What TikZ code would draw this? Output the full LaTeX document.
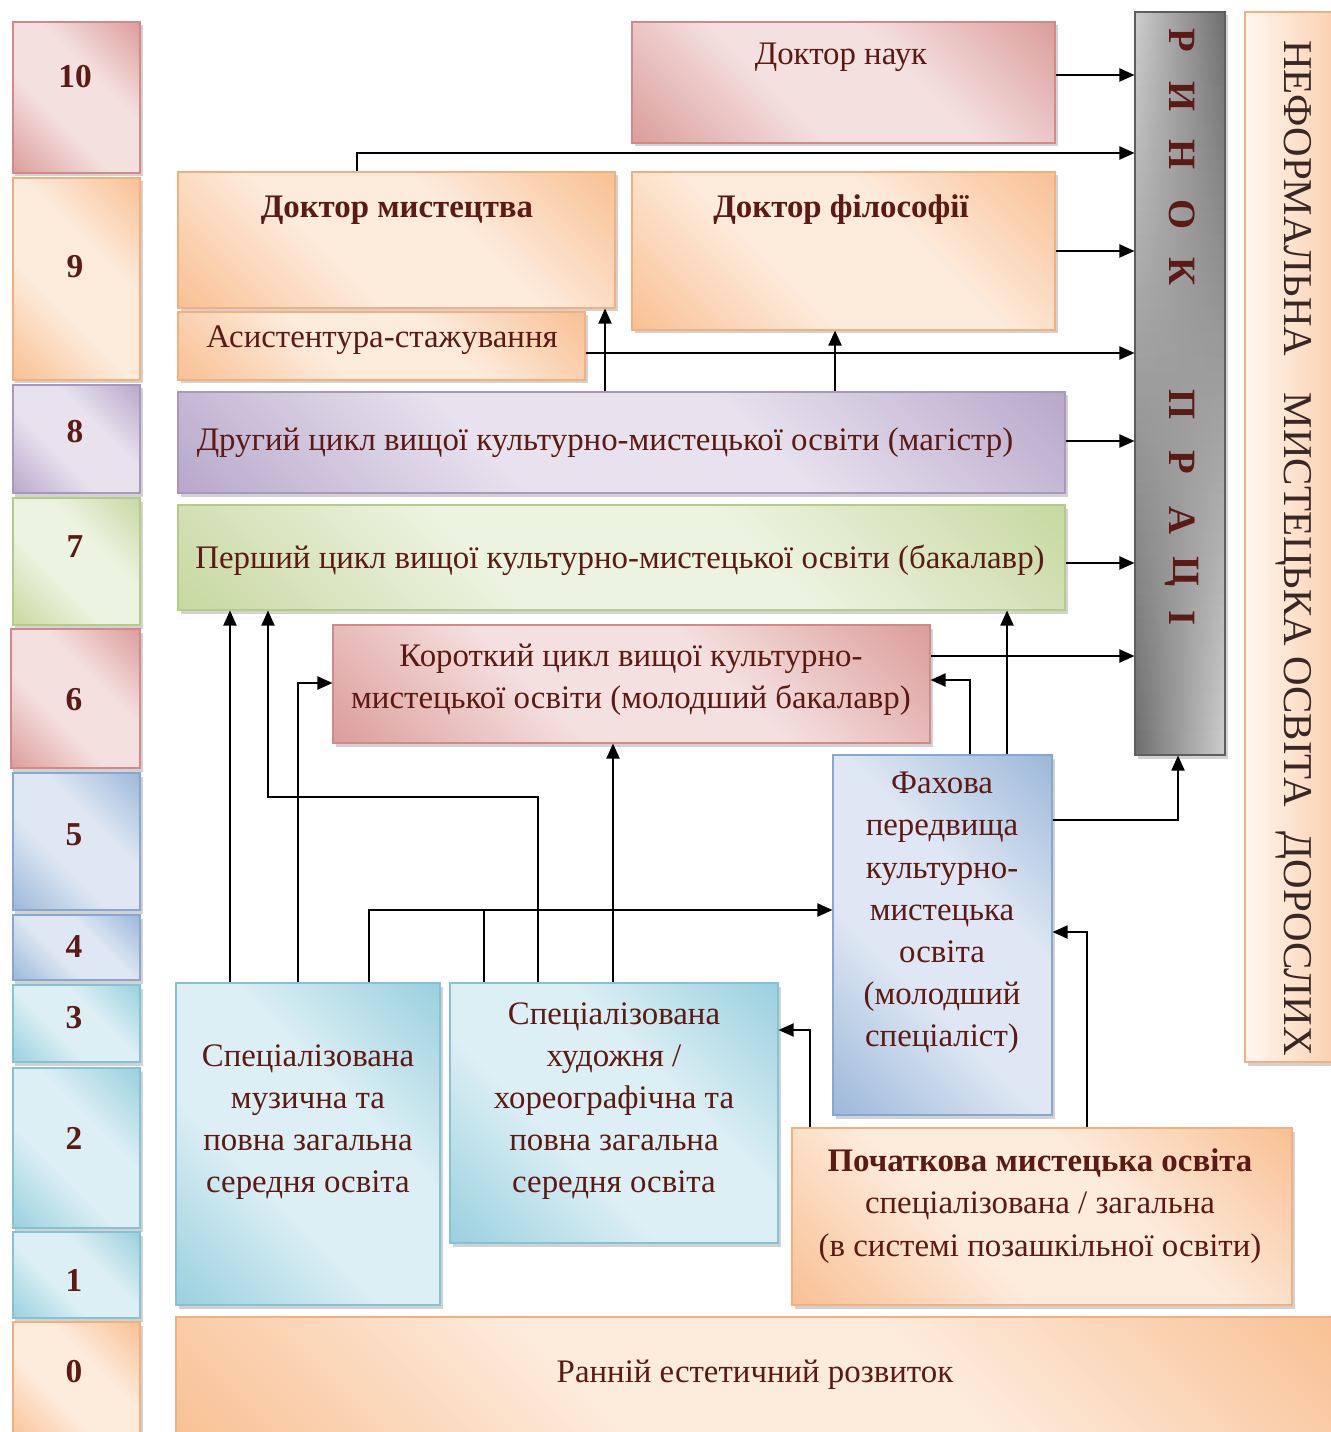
\documentclass[tikz,border=0pt]{standalone}
\usepackage{fontspec}
\setmainfont{Liberation Serif}
\usetikzlibrary{shadows,arrows.meta,backgrounds,calc}
\definecolor{tc}{HTML}{5C1A14}
\definecolor{nc}{HTML}{3A2622}
\definecolor{rD}{HTML}{D99694}\definecolor{rL}{HTML}{F4E0DF}\definecolor{rB}{HTML}{D08A88}
\definecolor{oD}{HTML}{F8BC8C}\definecolor{oL}{HTML}{FDEBDC}\definecolor{oB}{HTML}{F3B07E}
\definecolor{pD}{HTML}{B3A2C7}\definecolor{pL}{HTML}{E7E2EE}\definecolor{pB}{HTML}{A898BE}
\definecolor{gD}{HTML}{C3D69B}\definecolor{gL}{HTML}{EDF3E1}\definecolor{gB}{HTML}{B5CB88}
\definecolor{bD}{HTML}{95B3D7}\definecolor{bL}{HTML}{DEE7F3}\definecolor{bB}{HTML}{88A7CF}
\definecolor{tD}{HTML}{93CDDD}\definecolor{tL}{HTML}{DCEFF4}\definecolor{tB}{HTML}{84C2D4}
\definecolor{kD}{HTML}{6E6E6E}\definecolor{kL}{HTML}{CDCDCD}\definecolor{kB}{HTML}{5E5E5E}
\newcommand\mkshade[1]{\pgfdeclareverticalshading{dsh#1}{100bp}{color(0bp)=(#1D); color(12bp)=(#1D); color(40bp)=(#1L); color(60bp)=(#1L); color(88bp)=(#1D); color(100bp)=(#1D)}}
\mkshade{r}\mkshade{o}\mkshade{p}\mkshade{g}\mkshade{b}\mkshade{t}
\tikzset{
  box/.style={draw=#1B, line width=0.6pt, shading=dsh#1, shading angle=-45, inner sep=0pt,
    drop shadow={opacity=0.35, shadow xshift=0.05cm, shadow yshift=-0.07cm}},
  graybar/.style={draw=kB, line width=0.6pt, fill=kL, inner sep=0pt,
    drop shadow={opacity=0.35, shadow xshift=0.05cm, shadow yshift=-0.07cm},
    path picture={
      \foreach \i in {0,...,59}{
        \pgfmathtruncatemacro\p{100-\i*100/59}
        \shade[left color=kL!\p!kD, right color=kD!\p!kL]
          ($(path picture bounding box.north west)!{\i/60}!(path picture bounding box.south west)$)
          rectangle
          ($(path picture bounding box.north east)!{(\i+1.3)/60}!(path picture bounding box.south east)$);
      }}},
  txt/.style={text=tc, font=\fontsize{18.7}{24}\selectfont, align=center, inner sep=0pt},
  bold/.style={txt, font=\bfseries\fontsize{18.7}{24}\selectfont},
  num/.style={text=tc, font=\bfseries\fontsize{19}{24}\selectfont, inner sep=0pt},
  rpl/.style={text=tc, font=\bfseries\fontsize{22}{26}\selectfont, rotate=-90, inner sep=0pt},
  neft/.style={text=nc, font=\fontsize{23.3}{26}\selectfont, rotate=-90, inner sep=0pt},
  ln/.style={line width=1.1pt, line join=miter},
  arr/.style={ln, -{Triangle[length=0.3cm,width=0.26cm]}},
}
\newcommand\bx[6]{%
  \node[#6, minimum width={(#4-#2)*0.02cm}, minimum height={(#5-#3)*0.02cm}] (#1)
    at ({(#2+#4)/2},{(#3+#5)/2}) {};}
\begin{document}
\begin{tikzpicture}[x=0.02cm, y=-0.02cm]
\useasboundingbox (0,0) rectangle (1330,1432);
\fill[white] (0,0) rectangle (1330,1432);

% level column
\bx{l10}{13}{22}{140}{173}{box=r}
\bx{l9}{13}{178}{140}{380}{box=o}
\bx{l8}{13}{385}{140}{493}{box=p}
\bx{l7}{13}{498}{140}{625}{box=g}
\bx{l6}{11}{629}{140}{768}{box=r}
\bx{l5}{13}{773}{140}{910}{box=b}
\bx{l4}{13}{915}{140}{980}{box=b}
\bx{l3}{13}{985}{140}{1062}{box=t}
\bx{l2}{13}{1068}{140}{1228}{box=t}
\bx{l1}{13}{1232}{140}{1318}{box=t}
\bx{l0}{13}{1322}{140}{1445}{box=o}
\node[num] (n10) at (75,77) {10};
\node[num] (n9) at (75,267) {9};
\node[num] (n8) at (75,432) {8};
\node[num] (n7) at (75,547) {7};
\node[num] (n6) at (74,700) {6};
\node[num] (n5) at (74,835) {5};
\node[num] (n4) at (74,947) {4};
\node[num] (n3) at (74,1018) {3};
\node[num] (n2) at (74,1138) {2};
\node[num] (n1) at (74,1280) {1};
\node[num] (n0) at (74,1372) {0};

% main boxes
\bx{dn}{632}{22}{1055}{143}{box=r}
\bx{dm}{178}{172}{615}{308}{box=o}
\bx{df}{632}{172}{1055}{330}{box=o}
\bx{as}{178}{312}{585}{380}{box=o}
\bx{mag}{178}{392}{1065}{493}{box=p}
\bx{bak}{178}{505}{1065}{610}{box=g}
\bx{kor}{333}{625}{930}{743}{box=r}
\bx{fah}{833}{755}{1052}{1115}{box=b}
\bx{muz}{176}{983}{440}{1305}{box=t}
\bx{hud}{450}{983}{778}{1243}{box=t}
\bx{poch}{792}{1128}{1292}{1305}{box=o}
\bx{ran}{176}{1317}{1340}{1445}{box=o}
\bx{rp}{1135}{12}{1225}{755}{graybar}
\node[draw=oB, line width=0.6pt, left color=oL!40, right color=oD!75, inner sep=0pt,
  drop shadow={opacity=0.35, shadow xshift=0.05cm, shadow yshift=-0.07cm},
  minimum width={(1345-1245)*0.02cm}, minimum height={(1062-12)*0.02cm}]
  (nef) at ({(1245+1345)/2},{(12+1062)/2}) {};

% texts
\node[txt] (dn-t) at (841,57) {Доктор наук};
\node[bold] (dm-t) at (397,210) {Доктор мистецтва};
\node[bold] (df-t) at (841,210) {Доктор філософії};
\node[txt] (as-t) at (382,340) {Асистентура-стажування};
\node[txt] (mag-t) at (605,443) {Другий цикл вищої культурно-мистецької освіти (магістр)};
\node[txt] (bak-t) at (620,560) {Перший цикл вищої культурно-мистецької освіти (бакалавр)};
\node[txt] (kor-t) at (631,680) {Короткий цикл вищої культурно-\\мистецької освіти (молодший бакалавр)};
\node[txt, text width=4.2cm] (fah-t) at (942,913) {Фахова\\передвища\\культурно-\\мистецька\\освіта\\(молодший\\спеціаліст)};
\node[txt] (muz-t) at (308,1122) {Спеціалізована\\музична та\\повна загальна\\середня освіта};
\node[txt] (hud-t) at (614,1101) {Спеціалізована\\художня /\\хореографічна та\\повна загальна\\середня освіта};
\node[txt] (poch-t) at (1040,1206) {\textbf{Початкова мистецька освіта}\\спеціалізована / загальна\\(в системі позашкільної освіти)};
\node[txt] (ran-t) at (755,1375) {Ранній естетичний розвиток};
\foreach \l/\yy [count=\i] in {Р/40,И/97,Н/155,О/215,К/272,П/405,Р/462,А/520,Ц/572,І/618}
  \node[rpl] (rp-\i) at (1182,\yy) {\l};
\node[neft] (nef-t) at (1294,548) {НЕФОРМАЛЬНА\hspace{0.9em}МИСТЕЦЬКА ОСВІТА\hspace{0.6em}ДОРОСЛИХ};

% tiny arrows between stacked boxes (partly hidden)
\begin{pgfonlayer}{background}
\draw[arr] (mag.north -| 357,0) -- (as.south -| 357,0);
\draw[arr] (bak.north -| 613,0) -- (mag.south -| 613,0);
\draw[arr] (kor.north -| 613,0) -- (bak.south -| 613,0);
\end{pgfonlayer}

% arrows into the labour market
\draw[arr] (dn.east |- 0,75) -- (rp.west |- 0,75);
\draw[arr] (dm.north -| 357,0) |- (rp.west |- 0,153);
\draw[arr] (df.east |- 0,251) -- (rp.west |- 0,251);
\draw[arr] (as.east |- 0,353) -- (rp.west |- 0,353);
\draw[arr] (mag.east |- 0,441) -- (rp.west |- 0,441);
\draw[arr] (bak.east |- 0,563) -- (rp.west |- 0,563);
\draw[arr] (kor.east |- 0,656) -- (rp.west |- 0,656);
\draw[arr] (fah.east |- 0,820) -| (rp.south -| 1178,0);

% upward arrows
\draw[arr] (mag.north -| 605,0) -- (dm.south -| 605,0);
\draw[arr] (mag.north -| 835,0) -- (df.south -| 835,0);
\draw[arr] (muz.north -| 230,0) -- (bak.south -| 230,0);
\draw[arr] (muz.north -| 298,0) |- (kor.west |- 0,683);
\draw[arr] (muz.north -| 369,0) |- (fah.west |- 0,910);
\coordinate (j1) at (484,910);
\draw[ln] (hud.north -| j1) -- (j1);
\draw[arr] (hud.north -| 538,0) -- (538,797) -| (bak.south -| 268,0);
\draw[arr] (hud.north -| 613,0) -- (kor.south -| 613,0);
\draw[arr] (fah.north -| 970,0) |- (kor.east |- 0,680);
\draw[arr] (fah.north -| 1007,0) -- (bak.south -| 1007,0);
\draw[arr] (poch.north -| 810,0) |- (hud.east |- 0,1030);
\draw[arr] (poch.north -| 1087,0) |- (fah.east |- 0,932);
\end{tikzpicture}
\end{document}
